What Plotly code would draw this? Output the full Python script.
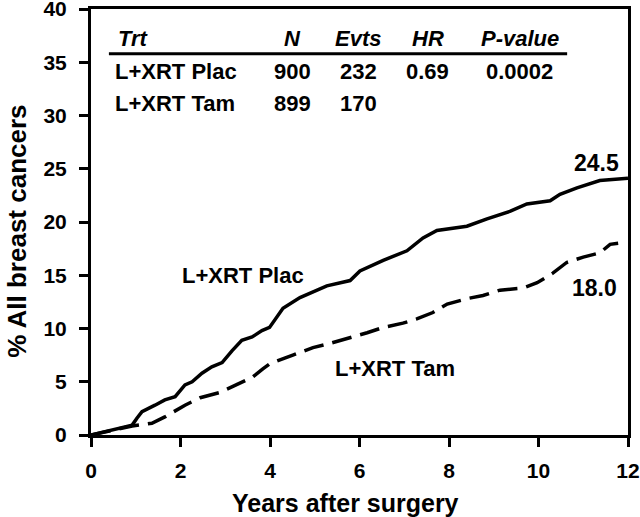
import plotly.graph_objects as go

# Cumulative incidence (% all breast cancers) by years after surgery
plac_t = [0, 0.31, 0.6, 0.92, 1.03, 1.14, 1.43, 1.65, 1.88, 2.1, 2.26, 2.48, 2.7, 2.93, 3.15, 3.37, 3.6, 3.82,
          3.99, 4.29, 4.67, 5.27, 5.79, 6.01, 6.53, 7.06, 7.42, 7.73, 8.4, 8.85, 9.36, 9.74, 10.26, 10.48,
          10.86, 11.37, 12.0]
plac_v = [0, 0.3, 0.65, 0.93, 1.6, 2.2, 2.8, 3.3, 3.6, 4.7, 5.0, 5.8, 6.4, 6.8, 7.9, 8.9, 9.2, 9.8,
          10.1, 11.9, 12.9, 14.0, 14.5, 15.4, 16.4, 17.3, 18.5, 19.2, 19.6, 20.3, 21.0, 21.7, 22.0, 22.6,
          23.2, 23.9, 24.1]

tam_t = [0, 0.31, 0.6, 0.92, 1.36, 1.65, 2.1, 2.44, 2.88, 3.15, 3.6, 3.84, 4.0, 4.51, 4.96, 5.34, 5.79,
         6.17, 6.53, 6.97, 7.28, 7.64, 7.96, 8.4, 8.76, 9.14, 9.65, 9.97, 10.32, 10.63, 11.0, 11.37, 11.6, 11.78]
tam_v = [0, 0.3, 0.6, 0.85, 1.1, 1.7, 2.8, 3.5, 4.0, 4.5, 5.4, 6.2, 6.7, 7.5, 8.2, 8.6, 9.1,
         9.6, 10.1, 10.5, 10.9, 11.5, 12.3, 12.8, 13.1, 13.6, 13.8, 14.3, 15.2, 16.2, 16.7, 17.1, 17.9, 18.0]

# Table contents
table_header = ["Trt", "N", "Evts", "HR", "P-value"]
row_plac = ["L+XRT Plac", "900", "232", "0.69", "0.0002"]
row_tam = ["L+XRT Tam", "899", "170", "", ""]

end_labels = ["24.5", "18.0"]
curve_labels = ["L+XRT Plac", "L+XRT Tam"]

FONT = "Liberation Sans, Arial, Helvetica, sans-serif"

fig = go.Figure()
fig.add_trace(go.Scatter(x=plac_t, y=plac_v, mode="lines",
                         line=dict(color="black", width=3.5), showlegend=False))
fig.add_trace(go.Scatter(x=tam_t, y=tam_v, mode="lines",
                         line=dict(color="black", width=3.5, dash="20px,9px"), showlegend=False))

ann = []
def txt(x, y, s, size=22, italic=False, xanchor="center", xref="x", yref="y"):
    ann.append(dict(x=x, y=y, xref=xref, yref=yref, text=s, showarrow=False,
                    xanchor=xanchor, yanchor="middle",
                    font=dict(family=FONT, size=size, color="black", weight="bold",
                              style="italic" if italic else "normal")))

# table columns (x in data units)
col_x = [0.5, 4.51, 5.97, 7.52, 9.58]
col_anchor = ["left", "center", "center", "center", "center"]
hdr_y, r1_y, r2_y = 37.2, 34.1, 31.1
for i in range(5):
    txt(col_x[i] + (0.05 if i == 0 else 0), hdr_y, table_header[i], italic=True, xanchor=col_anchor[i])
    txt(col_x[i], r1_y, row_plac[i], xanchor=col_anchor[i])
    if row_tam[i]:
        txt(col_x[i], r2_y, row_tam[i], xanchor=col_anchor[i])

txt(11.3, 25.5, end_labels[0], size=23)
txt(11.26, 13.8, end_labels[1], size=23)
txt(3.39, 14.95, curve_labels[0])
txt(6.79, 6.26, curve_labels[1])

# axis titles
txt(0.473, -0.16, "Years after surgery", size=25, xref="paper", yref="paper")
ann.append(dict(x=-0.138, y=0.479, xref="paper", yref="paper", text="% All breast cancers",
                showarrow=False, textangle=-90, xanchor="center", yanchor="middle",
                font=dict(family=FONT, size=26, color="black", weight="bold")))

fig.update_layout(
    width=640, height=517,
    margin=dict(l=91, r=12, t=9, b=82, autoexpand=False),
    plot_bgcolor="white", paper_bgcolor="white",
    annotations=ann,
    shapes=[dict(type="line", xref="x", yref="y", x0=0.40, x1=10.64, y0=35.8, y1=35.8,
                 line=dict(color="black", width=3))],
    font=dict(family=FONT, color="black"),
)
axis_common = dict(showgrid=False, zeroline=False, showline=True, linecolor="black", linewidth=3,
                   mirror=True, ticks="outside", ticklen=9, tickwidth=3, tickcolor="black",
                   ticklabeloverflow="allow", automargin=False,
                   tickfont=dict(family=FONT, size=21, color="black", weight="bold"))
fig.update_xaxes(range=[0, 12], tick0=0, dtick=2, ticklabelstandoff=6, **axis_common)
fig.update_yaxes(range=[0, 40], tick0=0, dtick=5, ticklabelstandoff=8, **axis_common)

fig.write_html("out.html", config={"displayModeBar": False},
               post_script="document.body.style.margin='0px';")
